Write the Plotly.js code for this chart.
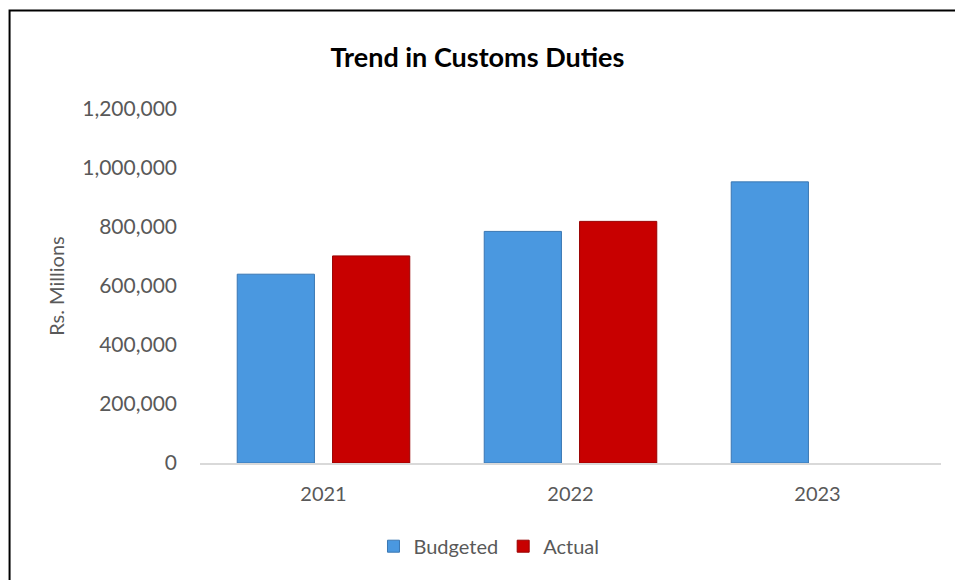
<!DOCTYPE html>
<html>
<head>
<meta charset="utf-8">
<script src="https://cdn.plot.ly/plotly-3.0.1.min.js"></script>
<style>
  html, body { margin: 0; padding: 0; background: #ffffff; }
  #chart { width: 955px; height: 580px; }
</style>
</head>
<body>
<div id="chart"></div>
<script>
// ---- data ----
const years = ["2021", "2022", "2023"];
const budgeted = [640000, 785000, 953000];
const actual = [702000, 819000, null];
const yTicks = [0, 200000, 400000, 600000, 800000, 1000000, 1200000];
const yTickLabels = ["0", "200,000", "400,000", "600,000", "800,000", "1,000,000", "1,200,000"];
const seriesNames = ["Budgeted", "Actual"];
const chartTitle = "Trend in Customs Duties";
const yTitle = "Rs. Millions";

const FONT = "Lato, 'Open Sans', sans-serif";
const GREY = "#595959";

const traces = [
  {
    type: "bar",
    name: seriesNames[0],
    x: years,
    y: budgeted,
    marker: { color: "#4A98E0", line: { color: "#3B77B3", width: 1 } },
    hoverinfo: "skip"
  },
  {
    type: "bar",
    name: seriesNames[1],
    x: years,
    y: actual,
    marker: { color: "#C80000", line: { color: "#990000", width: 1 } },
    hoverinfo: "skip"
  }
];

const layout = {
  width: 955,
  height: 580,
  paper_bgcolor: "#ffffff",
  plot_bgcolor: "#ffffff",
  margin: { l: 200, r: 14, t: 109, b: 117 },
  font: { family: FONT, color: GREY, size: 20 },
  title: {
    text: "<b>" + chartTitle + "</b>",
    font: { family: FONT, size: 27, color: "#000000" },
    x: 0.5, xref: "container", xanchor: "center",
    y: 0.9, yref: "container", yanchor: "middle"
  },
  barmode: "group",
  bargap: 0.228,
  bargroupgap: 0.19,
  xaxis: {
    type: "category",
    showgrid: false,
    zeroline: false,
    showline: true,
    linecolor: "#D9D9D9",
    linewidth: 2,
    ticks: "",
    ticklabelstandoff: 12,
    tickfont: { family: FONT, size: 20, color: GREY }
  },
  yaxis: {
    range: [0, 1200000],
    tickvals: yTicks,
    ticktext: yTickLabels,
    showgrid: false,
    zeroline: false,
    showline: false,
    ticks: "",
    ticklabelstandoff: 22,
    tickfont: { family: FONT, size: 21, color: GREY },
    title: { text: yTitle, font: { family: FONT, size: 20, color: GREY }, standoff: 12 }
  },
  legend: {
    orientation: "h",
    x: 0.39, xanchor: "center", xref: "paper",
    y: -0.235, yanchor: "middle",
    font: { family: FONT, size: 20, color: GREY },
    itemwidth: 30,
    traceorder: "normal"
  },
  showlegend: true,
  shapes: [
    {
      type: "rect",
      xref: "paper", yref: "paper",
      x0: -0.257, x1: 1.2, y0: -0.6, y1: 1.278,
      line: { color: "#000000", width: 2 },
      fillcolor: "rgba(0,0,0,0)",
      layer: "above"
    }
  ]
};

Plotly.newPlot("chart", traces, layout, { displayModeBar: false, staticPlot: true });
</script>
</body>
</html>
